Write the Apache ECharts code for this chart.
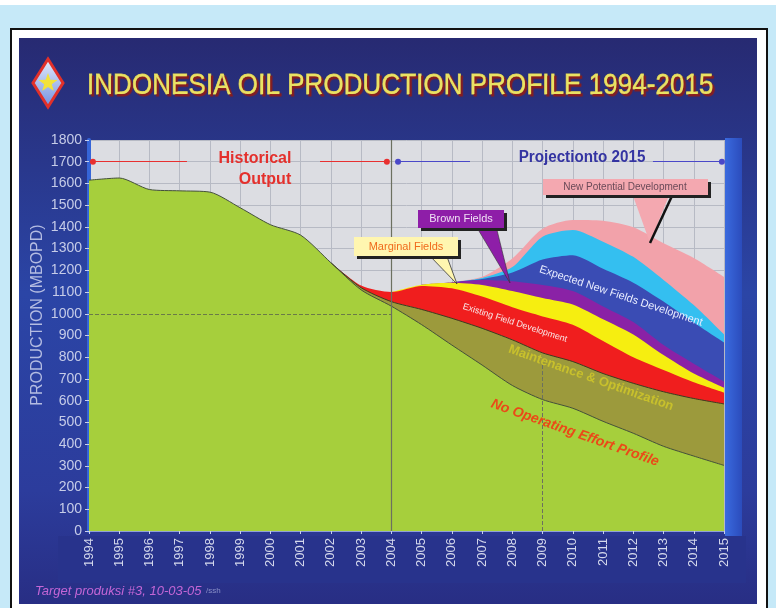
<!DOCTYPE html>
<html><head><meta charset="utf-8">
<script src="https://cdn.jsdelivr.net/npm/echarts@6/dist/echarts.min.js"></script>
<style>html,body{margin:0;padding:0;background:#c6e9f8;}#c{width:776px;height:608px;}</style>
</head><body><div id="c"></div>
<script>
// ---- data (MBOPD, cumulative top of each layer) ----
const years = [1994,1995,1996,1997,1998,1999,2000,2001,2002,2003,2004,2005,2006,2007,2008,2009,2010,2011,2012,2013,2014,2015];
const noOperatingEffort = [1615,1625,1572,1566,1560,1488,1410,1362,1235,1110,1035,950,856,764,670,605,565,505,450,390,345,302];
const maintenanceOptim  = [null,null,null,null,null,null,null,null,1235,1120,1056,1020,979,933,880,820,780,725,680,641,610,585];
const existingFieldDev  = [null,null,null,null,null,null,null,null,1235,1130,1100,1128,1117,1079,1030,988,950,875,800,741,685,638];
const marginalFields    = [null,null,null,null,null,null,null,null,null,null,1100,1134,1143,1133,1105,1073,1043,975,905,810,725,660];
const brownFields       = [null,null,null,null,null,null,null,null,null,null,null,1134,1145,1156,1150,1133,1105,1034,962,856,770,688];
const expectedNewFields = [null,null,null,null,null,null,null,null,null,null,null,null,1145,1160,1190,1250,1270,1207,1143,1056,960,868];
const newFieldsExtra    = [null,null,null,null,null,null,null,null,null,null,null,null,1145,1165,1215,1355,1386,1332,1262,1156,1040,905];
const newPotentialDev   = [null,null,null,null,null,null,null,null,null,null,null,null,1145,1170,1255,1392,1432,1428,1398,1325,1257,1170];
const yTicks = [0,100,200,300,400,500,600,700,800,900,1000,1100,1200,1300,1400,1500,1600,1700,1800];

const chart = echarts.init(document.getElementById('c'), null, {renderer:'canvas'});
const pts = arr => years.map((y,i)=>[y, arr[i]]);
function layer(name, arr, color, line){
  return {
    name, type:'line', data: pts(arr), symbol:'none', smooth:0.25,
    lineStyle: line ? {color:line, width:1} : {width:0},
    areaStyle:{color, opacity:1},
    emphasis:{disabled:true}, silent:true
  };
}
const F = '"Liberation Sans", Arial, sans-serif';

// star polygon for logo
const starPts = [];
for(let k=0;k<10;k++){const r=k%2?4:10; const a=-Math.PI/2+k*Math.PI/5; starPts.push([48+r*Math.cos(a),83+r*Math.sin(a)]);}

const solidRed = {color:'#e83030', width:1.2, type:'solid'};
const solidBlue = {color:'#4a48c8', width:1.2, type:'solid'};

const option = {
  animation:false,
  backgroundColor:'#c6e9f8',
  grid:{left:89, right:52, top:140, bottom:77, show:true, backgroundColor:'#dcdde2', borderWidth:0},
  xAxis:{type:'value', min:1994, max:2015, interval:1,
    axisLine:{show:true, lineStyle:{color:'#8fa0d8', width:1}},
    axisTick:{show:true, length:3, lineStyle:{color:'#c8d0ee'}},
    axisLabel:{rotate:90, color:'#d4d8ec', fontSize:13, fontFamily:F, margin:7, formatter:v=>String(v)},
    splitLine:{show:true, lineStyle:{color:'#b7bac4', width:1}}},
  yAxis:{type:'value', min:0, max:1800, interval:100,
    axisLine:{show:true, lineStyle:{color:'#3565d8', width:4}},
    axisTick:{show:true, length:4, lineStyle:{color:'#c8d0ee'}},
    axisLabel:{color:'#c6cce8', fontSize:14, fontFamily:F, margin:7, formatter:v=>String(v)},
    splitLine:{show:true, lineStyle:{color:'#b7bac4', width:1}}},
  graphic:[
    {type:'rect', z:-100, shape:{x:0,y:0,width:776,height:5}, style:{fill:'#ffffff'}},
    {type:'rect', z:-99, shape:{x:11,y:29,width:756,height:590}, style:{fill:'#ffffff', stroke:'#111', lineWidth:2}},
    {type:'rect', z:-98, shape:{x:19,y:38,width:738,height:566},
      style:{fill:new echarts.graphic.LinearGradient(0,0,0,1,[{offset:0,color:'#272a72'},{offset:0.45,color:'#2b45a6'},{offset:0.8,color:'#2c3c9c'},{offset:1,color:'#282e84'}])}},
    {type:'rect', z:-97, shape:{x:58,y:536,width:688,height:47}, style:{fill:'#28338c'}},
    {type:'rect', z:-97, shape:{x:725,y:138,width:17,height:398},
      style:{fill:new echarts.graphic.LinearGradient(0,0,1,0,[{offset:0,color:'#3a6ade'},{offset:1,color:'#2b4cbc'}])}},
    // y axis title
    {type:'text', z:50, x:38, y:315, rotation:Math.PI/2,
      style:{text:'PRODUCTION (MBOPD)', fill:'#b4bce2', font:'16px '+F, align:'center', verticalAlign:'middle'}},
    // logo
    {type:'polygon', z:50, shape:{points:[[48,59],[63,83],[48,107],[33,83]]},
      style:{fill:new echarts.graphic.LinearGradient(0,0,0,1,[{offset:0,color:'#e8eefc'},{offset:1,color:'#6f8ee0'}]), stroke:'#e2302a', lineWidth:3}},
    {type:'polygon', z:51, shape:{points:starPts}, style:{fill:'#f2e23a'}},
    // title
    {type:'text', z:50, x:87, y:86, scaleX:0.87,
      style:{text:'INDONESIA OIL PRODUCTION PROFILE 1994-2015', fill:'#eae264', font:'30px '+F,
        verticalAlign:'middle', stroke:'#d8d050', lineWidth:0.8, textShadowColor:'#8a1c1c', textShadowOffsetX:2, textShadowOffsetY:2, textShadowBlur:1}},
    // historical / projection labels
    {type:'text', z:50, x:255, y:159, style:{text:'Historical', fill:'#e4302c', font:'bold 16px '+F, align:'center', verticalAlign:'middle', textShadowColor:'#7a3030', textShadowOffsetX:1.5, textShadowOffsetY:1.5}},
    {type:'text', z:50, x:265, y:180, style:{text:'Output', fill:'#e4302c', font:'bold 16px '+F, align:'center', verticalAlign:'middle', textShadowColor:'#7a3030', textShadowOffsetX:1.5, textShadowOffsetY:1.5}},
    {type:'text', z:50, x:582, y:158, scaleX:0.95, style:{text:'Projectionto 2015', fill:'#3434a2', font:'bold 16px '+F, align:'center', verticalAlign:'middle', textShadowColor:'#20205a', textShadowOffsetX:1, textShadowOffsetY:1}},
    // callout: Marginal Fields
    {type:'polygon', z:60, shape:{points:[[428,254],[446,254],[457,284]]}, style:{fill:'#fff6b0', stroke:'#333', lineWidth:0.8}},
    {type:'rect', z:61, shape:{x:354,y:237,width:104,height:19}, style:{fill:'#fff6b0', shadowColor:'#222', shadowOffsetX:3, shadowOffsetY:3}},
    {type:'text', z:62, x:406, y:246.5, style:{text:'Marginal Fields', fill:'#f06a1c', font:'11px '+F, align:'center', verticalAlign:'middle'}},
    // callout: Brown Fields
    {type:'polygon', z:60, shape:{points:[[476,226],[496,226],[510,283]]}, style:{fill:'#8e1ea8', stroke:'#333', lineWidth:0.6}},
    {type:'rect', z:61, shape:{x:418,y:210,width:86,height:18}, style:{fill:'#8e1ea8', shadowColor:'#222', shadowOffsetX:3, shadowOffsetY:3}},
    {type:'text', z:62, x:461, y:219, style:{text:'Brown Fields', fill:'#f0e0f4', font:'11px '+F, align:'center', verticalAlign:'middle'}},
    // callout: New Potential Development
    {type:'polygon', z:60, shape:{points:[[632,193],[670,193],[650,243]]}, style:{fill:'#f4a8b0'}},
    {type:'line', z:61, shape:{x1:672,y1:196,x2:650,y2:243}, style:{stroke:'#111', lineWidth:2.5}},
    {type:'rect', z:61, shape:{x:543,y:179,width:165,height:16}, style:{fill:'#f4a8b0', shadowColor:'#222', shadowOffsetX:3, shadowOffsetY:3}},
    {type:'text', z:62, x:625, y:187, style:{text:'New Potential Development', fill:'#6a4a58', font:'10px '+F, align:'center', verticalAlign:'middle'}},
    // rotated layer labels
    {type:'text', z:55, x:621, y:296, rotation:-0.32, style:{text:'Expected New Fields Development', fill:'#e8ecff', font:'11px '+F, align:'center', verticalAlign:'middle'}},
    {type:'text', z:55, x:515, y:323, rotation:-0.31, style:{text:'Existing Field Development', fill:'#f8e8e8', font:'9px '+F, align:'center', verticalAlign:'middle'}},
    {type:'text', z:55, x:591, y:378, rotation:-0.34, style:{text:'Maintenance & Optimization', fill:'#c8c02c', font:'bold 13px '+F, align:'center', verticalAlign:'middle', textShadowColor:'#2e2e0c', textShadowOffsetX:1, textShadowOffsetY:1}},
    {type:'text', z:55, x:575, y:433, rotation:-0.34, style:{text:'No Operating Effort Profile', fill:'#ea4a18', font:'italic bold 14px '+F, align:'center', verticalAlign:'middle'}},
    // footer
    {type:'text', z:50, x:35, y:591, style:{text:'Target produksi #3, 10-03-05', fill:'#c466d6', font:'italic 13px '+F, verticalAlign:'middle'}},
    {type:'text', z:50, x:206, y:591, style:{text:'/ssh', fill:'#8a90c8', font:'8px '+F, verticalAlign:'middle'}}
  ],
  series:[
    Object.assign(layer('New Potential Development', newPotentialDev, '#f2a2aa'), {
      markLine:{silent:true, symbolSize:6, label:{show:false}, data:[
        [{coord:[1994.13,1700], symbol:'circle', lineStyle:solidRed},{coord:[1997.24,1700], symbol:'none'}],
        [{coord:[2001.64,1700], symbol:'none', lineStyle:solidRed},{coord:[2003.85,1700], symbol:'circle'}],
        [{coord:[2004.22,1700], symbol:'circle', lineStyle:solidBlue},{coord:[2006.6,1700], symbol:'none'}],
        [{coord:[2012.65,1700], symbol:'none', lineStyle:solidBlue},{coord:[2014.93,1700], symbol:'circle'}]
      ]}}),
    layer('Expected New Fields (upper)', newFieldsExtra, '#34bff0'),
    layer('Expected New Fields Development', expectedNewFields, '#3a4cb4'),
    layer('Brown Fields', brownFields, '#8a22a6'),
    layer('Marginal Fields', marginalFields, '#f6ee10'),
    layer('Existing Field Development', existingFieldDev, '#f01e1e'),
    layer('Maintenance & Optimization', maintenanceOptim, '#9c9a3c', '#3c3c20'),
    Object.assign(layer('No Operating Effort Profile', noOperatingEffort, '#a6cf3c', '#44503a'), {
      markLine:{silent:true, symbol:'none', label:{show:false}, data:[
        [{coord:[1994,1000], lineStyle:{color:'#6a7a48', type:'dashed', width:1}},{coord:[2004,1000]}],
        [{coord:[2004,0], lineStyle:{color:'#6c7060', type:'solid', width:1.2}},{coord:[2004,1800]}],
        [{coord:[2009,0], lineStyle:{color:'#6c7060', type:'dashed', width:1}},{coord:[2009,800]}]
      ]}})
  ]
};
chart.setOption(option);
</script></body></html>
